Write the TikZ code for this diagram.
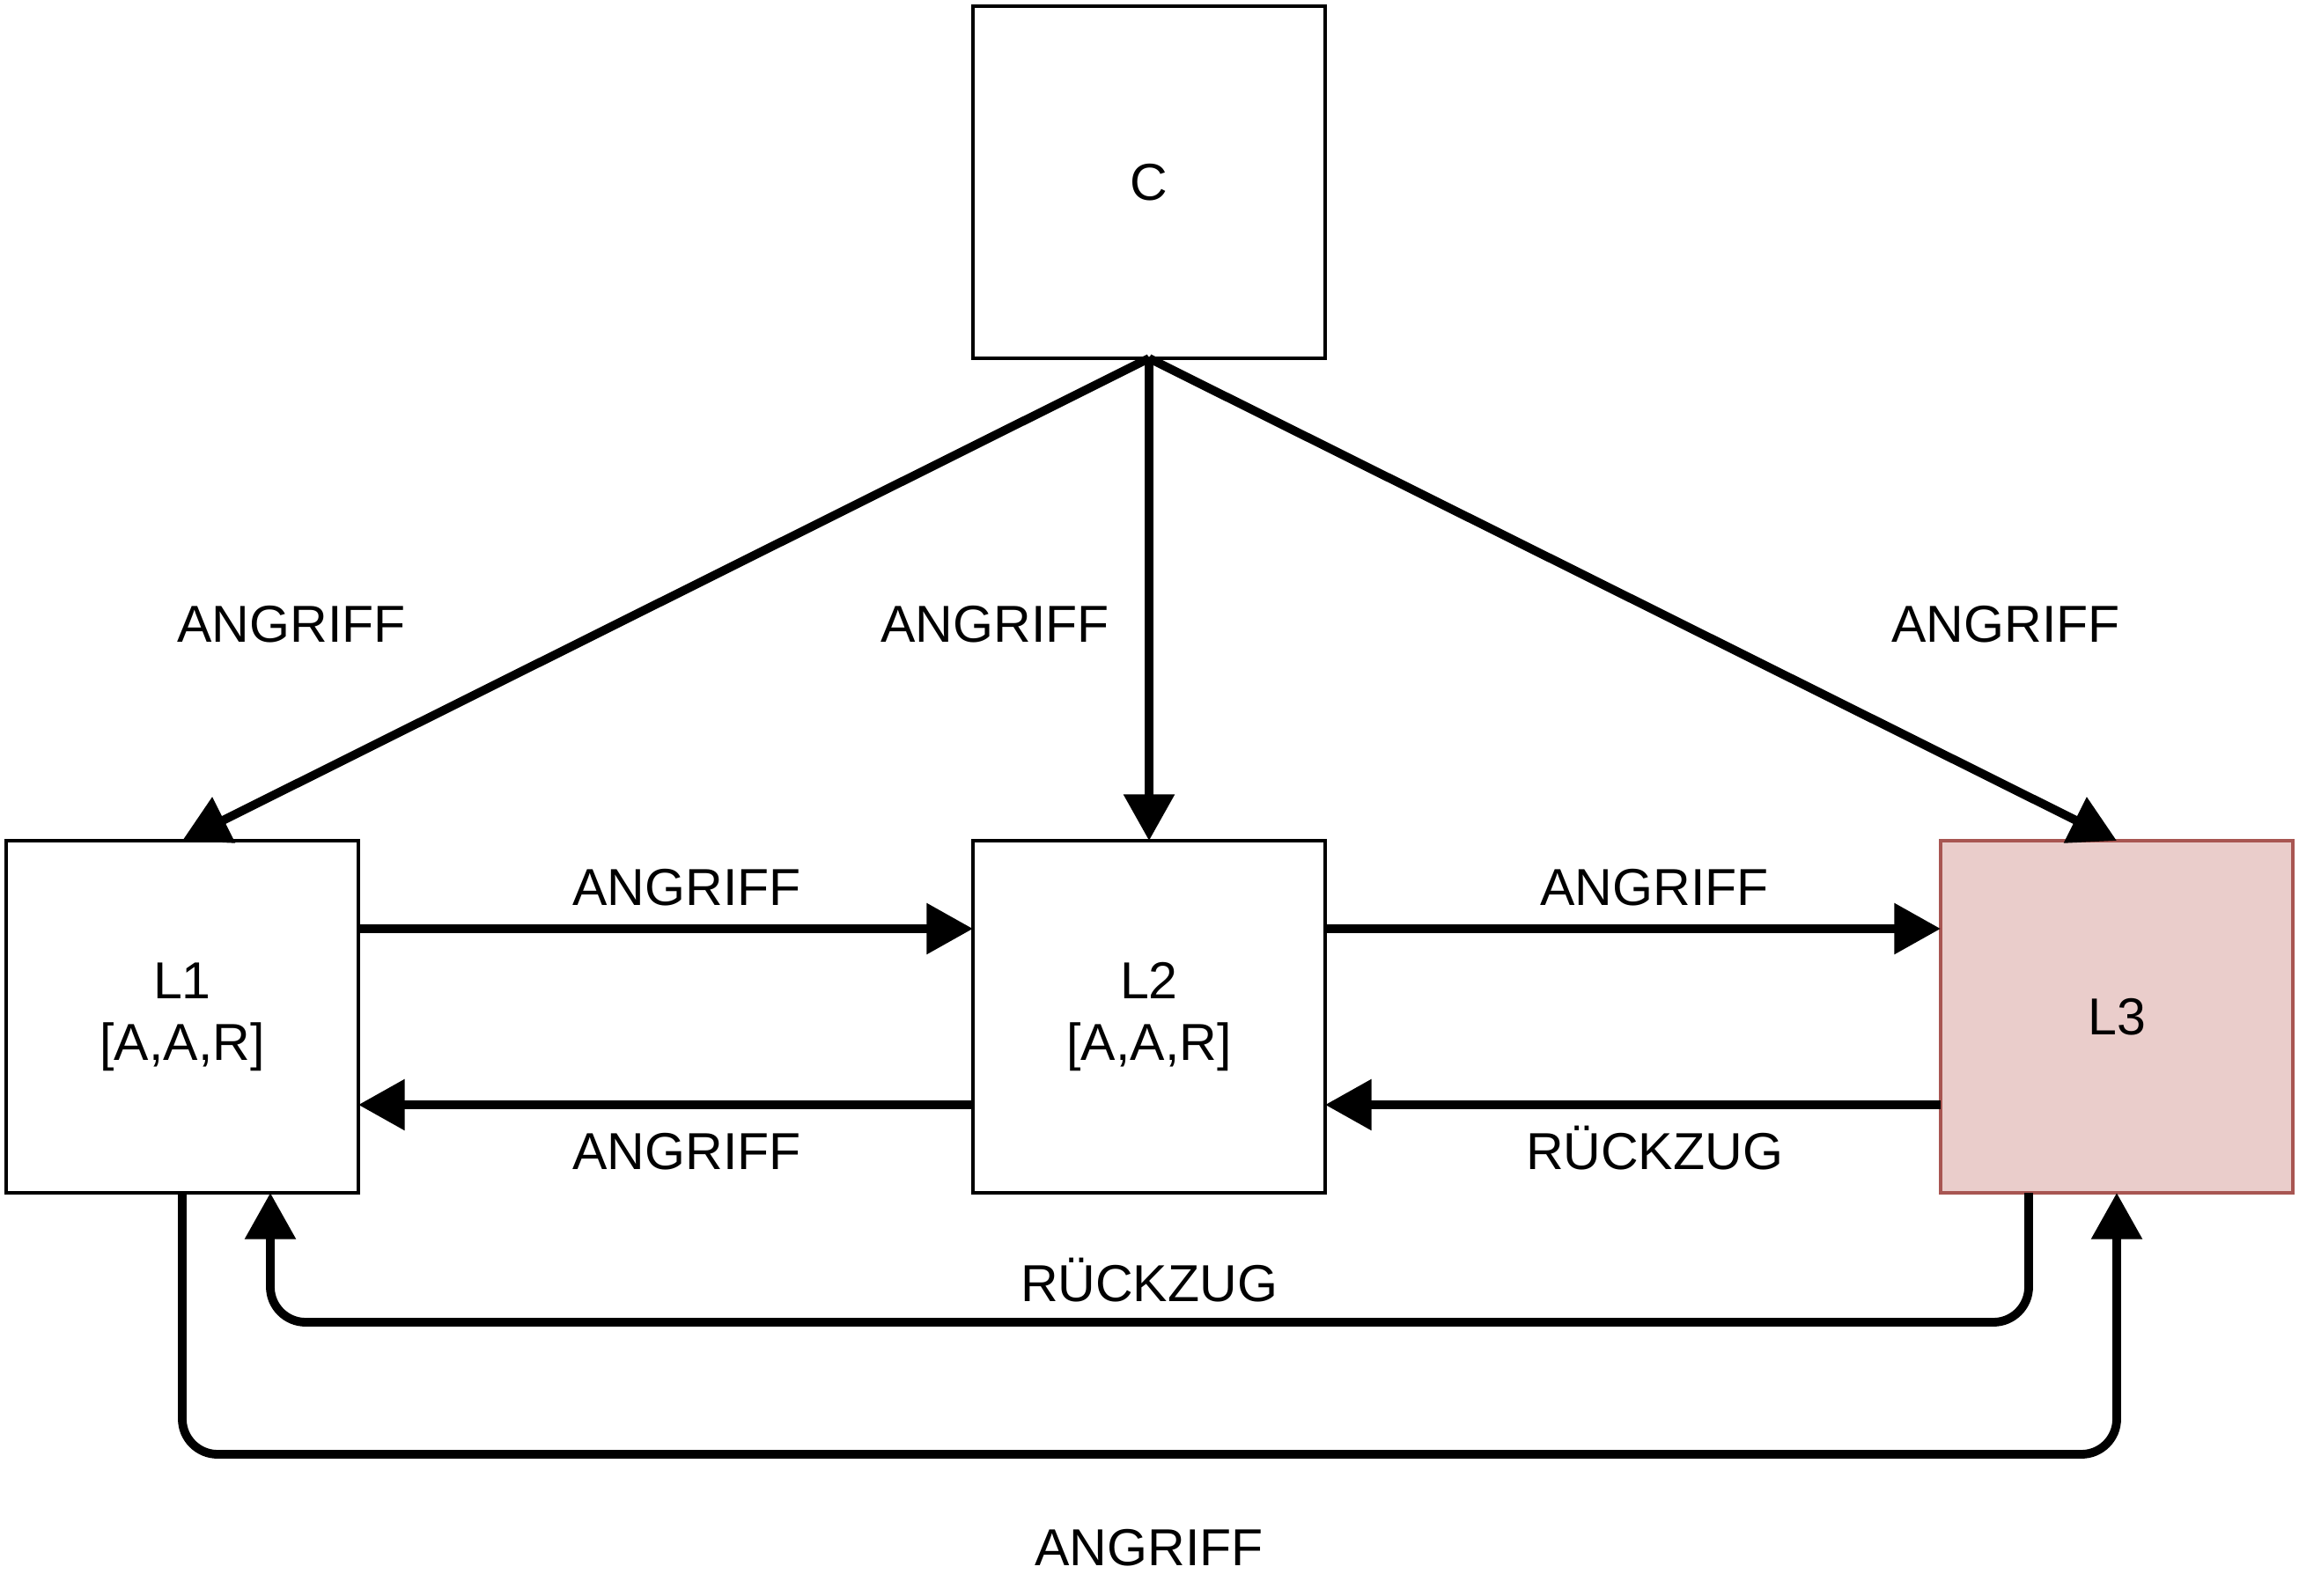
\documentclass[tikz,border=0pt]{standalone}
\usepackage{fontspec}
\setmainfont{Liberation Sans}
\usetikzlibrary{arrows.meta}
\definecolor{roseFill}{RGB}{234,205,203}
\definecolor{roseLine}{RGB}{168,86,82}

\begin{document}
\begin{tikzpicture}[
        box/.style={draw,line width=1.4pt,minimum width=4cm,minimum height=4cm,inner sep=0pt,outer sep=0pt,align=center,font=\fontsize{16.8}{19.9}\selectfont},
        conn/.style={line width=2.8pt,-{Triangle[length=15pt,width=15.9pt]}},
        lbl/.style={font=\fontsize{16.8}{19.9}\selectfont,inner sep=0pt,text height=0.42cm,text depth=0pt}
    ]
            \useasboundingbox (0,0) rectangle (26.11,-18.13);
            \node[box] (C) at (13.05,-2.07) {C};
            \node[box] (L1) at (2.07,-11.55) {L1\\{}[A,A,R]};
            \node[box] (L2) at (13.05,-11.55) {L2\\{}[A,A,R]};
            \node[box,fill=roseFill,draw=roseLine] (L3) at (24.04,-11.55) {L3};
            \draw[conn] (C.south)--(L1.north);
            \draw[conn] (C.south)--(L2.north);
            \draw[conn] (C.south)--(L3.north);
            \draw[conn] ([yshift=1cm]L1.east)--([yshift=1cm]L2.west);
            \draw[conn] ([yshift=-1cm]L2.west)--([yshift=-1cm]L1.east);
            \draw[conn] ([yshift=1cm]L2.east)--([yshift=1cm]L3.west);
            \draw[conn] ([yshift=-1cm]L3.west)--([yshift=-1cm]L2.east);
            \draw[conn,rounded corners=0.4cm] ([xshift=-1cm]L3.south)-- ++(0,-1.47) -| ([xshift=1cm]L1.south);
            \draw[conn,rounded corners=0.4cm] (L1.south)-- ++(0,-2.97) -| (L3.south);
            \node[lbl] (angL) at (3.31,-7.08) {ANGRIFF};
            \node[lbl] (angM) at (11.30,-7.08) {ANGRIFF};
            \node[lbl] (angR) at (22.78,-7.08) {ANGRIFF};
            \node[lbl] (ang12) at (7.80,-10.07) {ANGRIFF};
            \node[lbl] (ang21) at (7.80,-13.07) {ANGRIFF};
            \node[lbl] (ang23) at (18.79,-10.07) {ANGRIFF};
            \node[lbl] (rueck32) at (18.79,-13.07) {RÜCKZUG};
            \node[lbl] (rueck31) at (13.05,-14.57) {RÜCKZUG};
            \node[lbl] (ang13) at (13.05,-17.57) {ANGRIFF};
        \end{tikzpicture}
\end{document}
